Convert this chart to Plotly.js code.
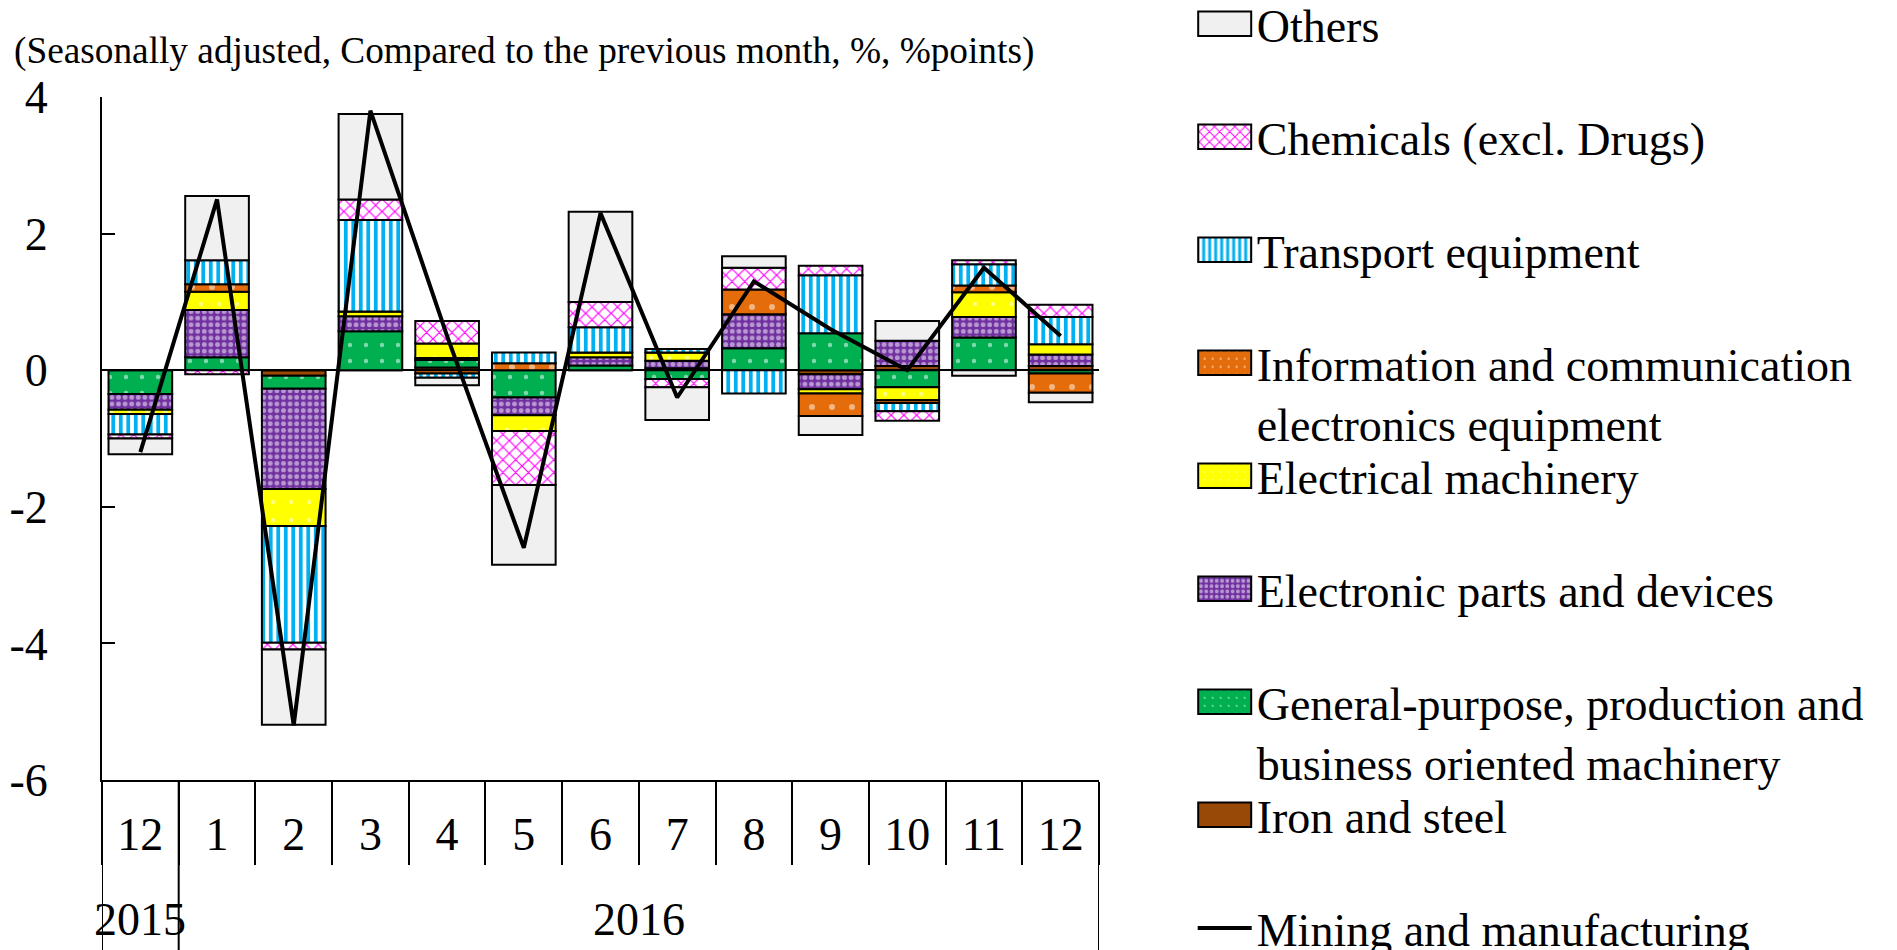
<!DOCTYPE html>
<html>
<head>
<meta charset="utf-8">
<script src="https://cdn.plot.ly/plotly-3.0.1.min.js"></script>
<style>html,body{margin:0;padding:0;background:#fff;}</style>
</head>
<body>
<div id="chart" style="width:1897px;height:950px;"></div>
<script>
// ---- data ----
const years  = ['2015','2016','2016','2016','2016','2016','2016','2016','2016','2016','2016','2016','2016'];
const months = ['12','1','2','3','4','5','6','7','8','9','10','11','12'];
const yTickVals   = [-6, -4, -2, 0, 2, 4];
const yTickLabels = ['-6', '-4', '-2', '0', '2', '4'];

const ironSteel           = [0, 0, -0.08, 0, 0.04, 0, 0, 0.03, 0, -0.06, 0.06, 0, 0.06];
const generalMachinery    = [-0.35, 0.19, -0.19, 0.57, 0.11, -0.40, 0.07, -0.13, 0.32, 0.54, -0.25, 0.48, -0.05];
const electronicParts     = [-0.23, 0.69, -1.47, 0.22, 0.03, -0.26, 0.12, 0.11, 0.50, -0.22, 0.37, 0.30, 0.17];
const electricalMachinery = [-0.06, 0.27, -0.54, 0.07, 0.21, -0.23, 0.07, 0.12, 0, -0.06, -0.19, 0.36, 0.15];
const infoComm            = [0, 0.11, 0, 0, -0.05, 0.10, 0, 0, 0.36, -0.33, -0.04, 0.10, -0.28];
const transportEquip      = [-0.30, 0.35, -1.71, 1.34, -0.06, 0.16, 0.37, 0.05, -0.34, 0.85, -0.12, 0.31, 0.40];
const chemicals           = [-0.06, -0.06, -0.10, 0.30, 0.33, -0.79, 0.37, -0.12, 0.32, 0.14, -0.14, 0.06, 0.18];
const others              = [-0.23, 0.94, -1.10, 1.25, -0.11, -1.17, 1.32, -0.48, 0.17, -0.28, 0.29, -0.08, -0.14];
const miningManufacturing = [-1.2, 2.5, -5.2, 3.8, 0.5, -2.6, 2.3, -0.4, 1.3, 0.6, 0.0, 1.5, 0.5];

const seriesNames = {
  iron: 'Iron and steel<br> ',
  general: 'General-purpose, production and<br>business oriented machinery',
  electronic: 'Electronic parts and devices<br> ',
  electrical: 'Electrical machinery<br> ',
  info: 'Information and communication<br>electronics equipment',
  transport: 'Transport equipment<br> ',
  chemicals: 'Chemicals (excl. Drugs)<br> ',
  others: 'Others<br> ',
  total: 'Mining and manufacturing<br> '
};
const subtitle = '(Seasonally adjusted, Compared to the previous month, %, %points)';

// ---- layout helpers ----
const W = 1897, H = 950;
const plotL = 102, plotR = 1099, plotT = 97, plotB = 780;
const FONT = 'Liberation Serif, Times New Roman, serif';
const FS = 46;
const pyPaper = px => (plotB - px) / (plotB - plotT);

const xKeys = years.map((y, i) => y + '-' + months[i]);

function barTrace(name, vals, legendId, marker) {
  return {
    type: 'bar', name: name, x: xKeys, y: vals, legend: legendId,
    marker: Object.assign({line: {color: '#000', width: 2}}, marker),
    hoverinfo: 'name+y'
  };
}

const traces = [
  barTrace(seriesNames.iron, ironSteel, 'legend8', {color: '#984807'}),
  barTrace(seriesNames.general, generalMachinery, 'legend7', {color: '#00B050',
    pattern: {shape: '.', fgcolor: '#ffffff', bgcolor: '#00B050', size: 16, solidity: 0.06, fillmode: 'overlay'}}),
  barTrace(seriesNames.electronic, electronicParts, 'legend6', {color: '#7030A0',
    pattern: {shape: '.', fgcolor: '#ffffff', bgcolor: '#7030A0', size: 6.6, solidity: 0.42, fillmode: 'overlay'}}),
  barTrace(seriesNames.electrical, electricalMachinery, 'legend5', {color: '#FFFF00',
    pattern: {shape: '.', fgcolor: '#ffffff', bgcolor: '#FFFF00', size: 18, solidity: 0.05, fillmode: 'overlay'}}),
  barTrace(seriesNames.info, infoComm, 'legend4', {color: '#E46C0A',
    pattern: {shape: '.', fgcolor: '#ffffff', bgcolor: '#E46C0A', size: 20, solidity: 0.07, fillmode: 'overlay'}}),
  barTrace(seriesNames.transport, transportEquip, 'legend3', {color: '#00B0F0',
    pattern: {shape: '|', fgcolor: '#00B0F0', bgcolor: '#ffffff', size: 7.5, solidity: 0.5, fillmode: 'replace'}}),
  barTrace(seriesNames.chemicals, chemicals, 'legend2', {color: '#FF00FF',
    pattern: {shape: 'x', fgcolor: '#FF00FF', bgcolor: '#ffffff', size: 9, solidity: 0.25, fillmode: 'replace'}}),
  barTrace(seriesNames.others, others, 'legend', {color: '#F0F0F0'}),
  {type: 'scatter', mode: 'lines', name: seriesNames.total, x: xKeys, y: miningManufacturing,
   legend: 'legend9', line: {color: '#000', width: 4}}
];

// legend slots: symbol centre y (px) for each legend
const legendSlots = {legend: 24, legend2: 137, legend3: 250, legend4: 363, legend5: 476,
                     legend6: 589, legend7: 702, legend8: 815, legend9: 928};
const LH = FS * 1.3;
function legendCfg(yPx) {
  const cfg = {
    x: 1192.7 / W, xref: 'container', xanchor: 'left', yref: 'container',
    font: {family: FONT, size: FS, color: '#000'},
    itemwidth: 54, valign: 'top', bgcolor: 'rgba(0,0,0,0)', borderwidth: 0
  };
  const midY = 1 - (yPx + LH / 2) / H;
  const boxH = 2 * LH + 13;
  if (midY + boxH / 2 / H <= 1 && midY - boxH / 2 / H >= 0) {
    cfg.y = midY; cfg.yanchor = 'middle';
  } else if (midY + boxH / 2 / H > 1) {
    cfg.y = midY; cfg.yanchor = 'middle';
  } else {
    cfg.y = 1 - (yPx - 6.5 - LH / 2) / H; cfg.yanchor = 'top';
  }
  return cfg;
}

// dividers at year boundaries and axis ends
const shapes = [];
years.forEach((y, i) => {
  if (i === 0 || y !== years[i - 1]) {
    shapes.push({type: 'line', xref: 'x', yref: 'paper', x0: i - 0.5, x1: i - 0.5,
                 y0: 0, y1: pyPaper(960), line: {color: '#000', width: 2}});
  }
});
shapes.push({type: 'line', xref: 'x', yref: 'paper', x0: years.length - 0.5, x1: years.length - 0.5,
             y0: 0, y1: pyPaper(960), line: {color: '#000', width: 2}});

// year labels centred on their group
const annotations = [];
[...new Set(years)].forEach(y => {
  const idx = years.map((v, i) => v === y ? i : null).filter(v => v !== null);
  const c = idx.reduce((a, b) => a + b, 0) / idx.length;
  annotations.push({text: y, xref: 'x', yref: 'paper', x: c, y: pyPaper(919),
                    xanchor: 'center', yanchor: 'middle', showarrow: false,
                    font: {family: FONT, size: FS, color: '#000'}});
});

const layout = {
  width: W, height: H,
  paper_bgcolor: '#fff', plot_bgcolor: '#fff',
  margin: {l: plotL, r: W - plotR, t: plotT, b: H - plotB, autoexpand: false},
  barmode: 'relative', bargap: 0.17,
  font: {family: FONT, size: FS, color: '#000'},
  title: {text: subtitle, x: 14 / W, xref: 'container', xanchor: 'left',
          y: 1 - 50 / H, yref: 'container', yanchor: 'middle',
          font: {family: FONT, size: 37.3, color: '#000'}},
  xaxis: {
    type: 'category', range: [-0.5, years.length - 0.5],
    tickmode: 'array', tickvals: xKeys, ticktext: months,
    showline: true, linecolor: '#000', linewidth: 2,
    ticks: 'outside', tickson: 'boundaries', ticklen: 83, tickwidth: 2, tickcolor: '#000',
    ticklabelstandoff: 13,
    showgrid: false, zeroline: false,
    tickfont: {family: FONT, size: FS, color: '#000'}
  },
  yaxis: {
    range: [-6, 4], tickmode: 'array', tickvals: yTickVals, ticktext: yTickLabels,
    showline: true, linecolor: '#000', linewidth: 2,
    ticks: 'inside', ticklen: 13, tickwidth: 2, tickcolor: '#000',
    ticklabelstandoff: 43,
    showgrid: false, zeroline: true, zerolinecolor: '#000', zerolinewidth: 2,
    tickfont: {family: FONT, size: FS, color: '#000'}
  },
  shapes: shapes,
  annotations: annotations,
  showlegend: true
};
Object.keys(legendSlots).forEach(k => { layout[k] = legendCfg(legendSlots[k]); });

Plotly.newPlot('chart', traces, layout, {displayModeBar: false, staticPlot: true}).then(gd => {
  // enlarge legend swatches for bar series to match the reference key boxes
  gd.querySelectorAll('g.legendpoints path').forEach(p => {
    const d = p.getAttribute('d') || '';
    if (d.indexOf('M6,6') === 0) p.setAttribute('d', 'M26.5,12.3H-26.5V-12.3H26.5Z');
  });
});
</script>
</body>
</html>
